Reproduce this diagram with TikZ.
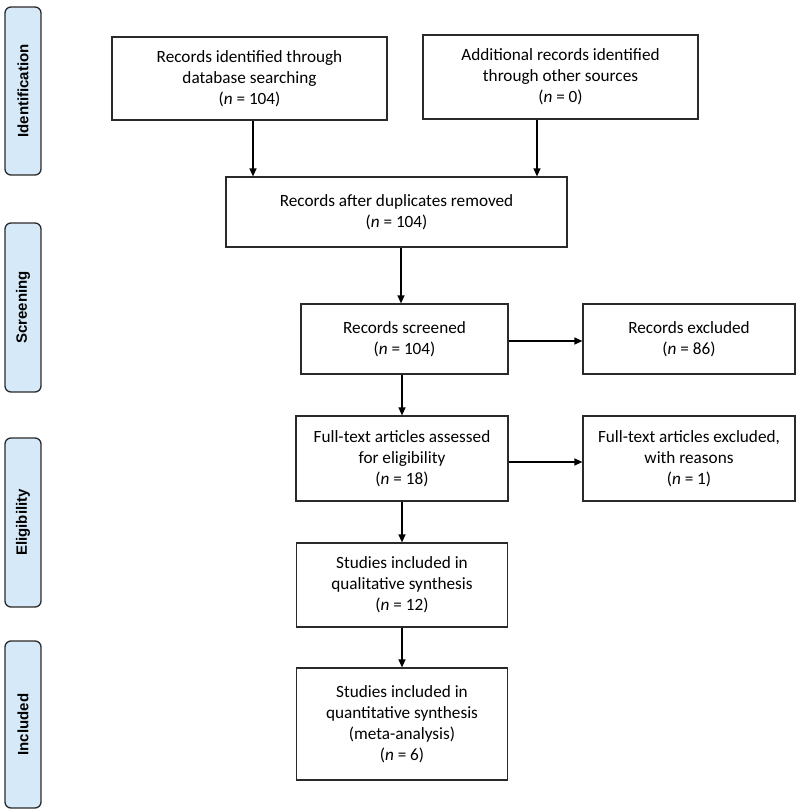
\documentclass[tikz,border=0pt]{standalone}
\usepackage{fontspec}
\setmainfont{Carlito}
\newfontfamily\phasefont{Liberation Sans}
\usetikzlibrary{arrows.meta}
\definecolor{phaseblue}{HTML}{D6E9F8}
\definecolor{edgegray}{HTML}{2A2A2A}
\begin{document}
\begin{tikzpicture}[x=1pt,y=-1pt,
  box/.style={draw=edgegray, line width=1.2pt, align=center, inner sep=2pt,
    font=\fontsize{17.2}{21}\selectfont},
  phase/.style={draw=edgegray, fill=phaseblue, line width=1.3pt, rounded corners=6pt,
    rotate=90, minimum height=36pt, inner sep=0pt,
    font=\phasefont\bfseries\fontsize{15}{18}\selectfont},
  arr/.style={line width=1.2pt, draw=black, -{Triangle[length=8pt,width=7pt]}}]
\useasboundingbox (0,0) rectangle (800,811);

% phase labels
\node[phase, minimum width=168pt] (p1) at (23,91) {Identification};
\node[phase, minimum width=169pt] (p2) at (23,307.5) {Screening};
\node[phase, minimum width=169pt] (p3) at (23,522.5) {Eligibility};
\node[phase, minimum width=167pt] (p4) at (23,724.5) {Included};

% boxes
\node[box, minimum width=275pt, minimum height=83pt] (b1) at (249.5,78.5)
  {Records identified through\\database searching\\(\textit{n} = 104)};
\node[box, minimum width=275pt, minimum height=84pt] (b2) at (560.5,77)
  {Additional records identified\\through other sources\\(\textit{n} = 0)};
\node[box, minimum width=341pt, minimum height=70pt] (b3) at (396.5,212)
  {Records after duplicates removed\\(\textit{n} = 104)};
\node[box, minimum width=207pt, minimum height=70pt] (b4) at (404.5,339)
  {Records screened\\(\textit{n} = 104)};
\node[box, minimum width=212pt, minimum height=70pt] (b5) at (689,339)
  {Records excluded\\(\textit{n} = 86)};
\node[box, minimum width=212pt, minimum height=85pt] (b6) at (402,458.5)
  {Full-text articles assessed\\for eligibility\\(\textit{n} = 18)};
\node[box, minimum width=212pt, minimum height=85pt] (b7) at (689,458.5)
  {Full-text articles excluded,\\with reasons\\(\textit{n} = 1)};
\node[box, minimum width=211pt, minimum height=84pt] (b8) at (402,585)
  {Studies included in\\qualitative synthesis\\(\textit{n} = 12)};
\node[box, minimum width=211pt, minimum height=112pt] (b9) at (402,724)
  {Studies included in\\quantitative synthesis\\(meta-analysis)\\(\textit{n} = 6)};

% connectors
\draw[arr] ([xshift=3.5pt]b1.south) -- ([xshift=3.5pt]b1.south |- b3.north);
\draw[arr] ([xshift=-23.5pt]b2.south) -- ([xshift=-23.5pt]b2.south |- b3.north);
\draw[arr] ([xshift=-3.5pt]b4.north |- b3.south) -- ([xshift=-3.5pt]b4.north);
\draw[arr] (b6.north |- b4.south) -- (b6.north);
\draw[arr] ([yshift=-2pt]b4.east) -- ([yshift=-2pt]b4.east -| b5.west);
\draw[arr] ([yshift=-3.5pt]b6.east) -- ([yshift=-3.5pt]b6.east -| b7.west);
\draw[arr] (b6.south) -- (b8.north);
\draw[arr] (b8.south) -- (b9.north);
\end{tikzpicture}
\end{document}
